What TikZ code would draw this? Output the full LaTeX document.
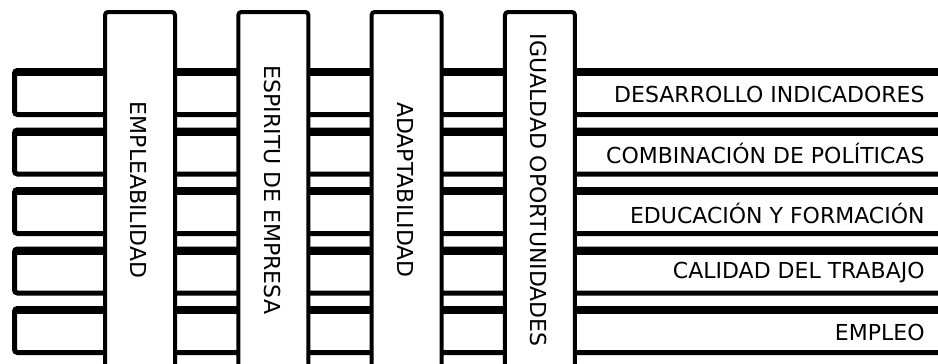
\documentclass[tikz,border=0pt]{standalone}
\usepackage{fontspec}
\setmainfont{DejaVu Sans}

\begin{document}
\begin{tikzpicture}[x=0.5pt,y=-0.5pt,
    bar/.style={line width=2.5pt, rounded corners=1.5pt},
    bartop/.style={line width=4pt},
    pillar/.style={draw, fill=white, line width=2pt, rounded corners=1.5pt},
    rowlabel/.style={anchor=east, inner sep=0pt, font=\fontsize{11}{13}\selectfont},
    pillarlabel/.style={rotate=-90, inner sep=0pt, font=\fontsize{11}{13}\selectfont}]
    \clip (0,0) rectangle (938,364);

    % horizontal bars, from top to bottom
    \foreach \lab [count=\i from 0] in {DESARROLLO INDICADORES, COMBINACIÓN DE POLÍTICAS,
        EDUCACIÓN Y FORMACIÓN, CALIDAD DEL TRABAJO, EMPLEO} {
        \pgfmathsetmacro\t{68+59.5*\i}
        \draw[bar] (950,\t+46.5) -- (14.5,\t+46.5) -- (14.5,\t+2.5) -- (950,\t+2.5);
        \draw[bartop] (16,\t+4) -- (950,\t+4);
        \node[rowlabel] (row\i) at (925,\t+26) {\lab};
    }

    % pillars in front
    \foreach \lab [count=\j from 0] in {EMPLEABILIDAD, ESPIRITU DE EMPRESA,
        ADAPTABILIDAD, IGUALDAD OPORTUNIDADES} {
        \pgfmathsetmacro\c{140+133.33*\j}
        \draw[pillar] (\c-35,380) rectangle (\c+35,12);
        \node[pillarlabel] (pil\j) at (\c-1,190) {\lab};
    }
\end{tikzpicture}
\end{document}
